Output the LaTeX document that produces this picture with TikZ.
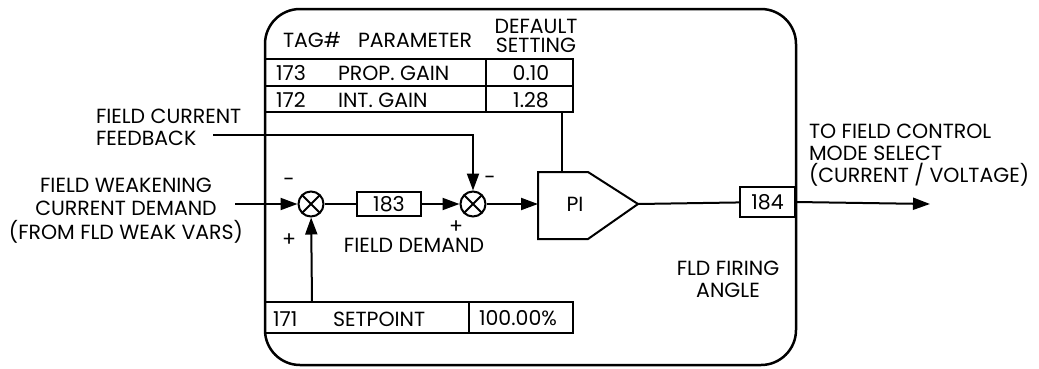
\documentclass[tikz,border=0pt]{standalone}
\usepackage{fontspec}
\setmainfont{Poppins}
\usetikzlibrary{arrows.meta, positioning}

\tikzset{
  lbl/.style={font=\fontsize{20.5}{22}\selectfont, inner sep=0pt},
  lbll/.style={lbl, align=left},
  lblc/.style={lbl, align=center},
  lblr/.style={lbl, align=right},
  tagbox/.style={draw, line width=2pt, minimum height=24pt, inner sep=0pt, font=\fontsize{20.5}{22}\selectfont},
  sumnode/.style={draw, circle, line width=2pt, minimum size=25pt, inner sep=0pt,
    path picture={\draw[line width=2pt] (path picture bounding box.north west) -- (path picture bounding box.south east)
      (path picture bounding box.south west) -- (path picture bounding box.north east);}},
}

\begin{document}
\begin{tikzpicture}[x=1pt, y=-1pt, line width=2pt, >={Triangle[length=17pt, width=12pt]}]
\useasboundingbox (0,0) rectangle (1039,368);

% outer block
\draw[line width=2.5pt, rounded corners=35pt] (265,9) rectangle (796,365);

% parameter table
\node[lbl, anchor=west] (taghead) at (282,40) {TAG\#};
\node[lbl, anchor=west] (parhead) at (357,40) {PARAMETER};
\node[lblc, anchor=north, font=\fontsize{20.5}{19.5}\selectfont] (defhead) at (536,18) {DEFAULT\\SETTING};
\draw (265,59) rectangle (573,112);
\draw (265,86) -- (573,86);
\draw (486,59) -- (486,112);
\node[lbl, anchor=west] (t173) at (275,73) {173};
\node[lbl, anchor=west] (p173) at (337,73) {PROP. GAIN};
\node[lbl] (v173) at (531,73) {0.10};
\node[lbl, anchor=west] (t172) at (275,100) {172};
\node[lbl, anchor=west] (p172) at (337,100) {INT. GAIN};
\node[lbl] (v172) at (531,100) {1.28};
\coordinate (gains) at (562,112);

% setpoint table
\draw (265,302) rectangle (573,333);
\draw (469,302) -- (469,333);
\node[lbl, anchor=west] (t171) at (272,319) {171};
\node[lbl, anchor=west] (p171) at (332,319) {SETPOINT};
\node[lbl] (v171) at (518,318) {100.00\%};
\coordinate (setp) at (312,302);

% summing junctions and tags
\node[sumnode] (sum1) at (311,204) {};
\node[tagbox, minimum width=64pt] (d183) at (389,204) {183};
\node[sumnode] (sum2) at (473,204) {};

% PI block
\draw (538,172) -- (588,172) -- (638,204) -- (588,239) -- (538,239) -- cycle;
\node[lbl] (pi) at (575,204) {PI};
\coordinate (piin) at (538,204);
\coordinate (piout) at (638,204);
\coordinate (pitop) at (562,172);

\node[tagbox, minimum width=55pt, minimum height=30pt] (d184) at (767.5,202) {184};

% inputs and output
\coordinate (fwin) at (235,204);
\coordinate (fbin) at (213,135);
\coordinate (out) at (930,204);

\draw[->] (fwin) -- (sum1);
\draw (sum1) -- (d183);
\draw[->] (d183) -- (sum2);
\draw[->] (sum2) -- (piin);
\draw (piout) -- (d184);
\draw[->] (d184.east) -- (out);
\draw[->] (fbin) -| (sum2);
\draw[->] (setp) -- (sum1);
\draw (gains) -- (pitop);

% signs
\node[lbl] (m1) at (289,182) {-};
\node[lbl] (p1) at (289,240) {+};
\node[lbl] (m2) at (490,180) {-};
\node[lbl] (p2) at (456,227) {+};

% labels
\node[lbl] (fdem) at (414,245) {FIELD DEMAND};
\node[lbll, anchor=north west] (fbtxt) at (95,108) {FIELD CURRENT\\FEEDBACK};
\node[lblc, anchor=north, font=\fontsize{20.5}{23.5}\selectfont] (fwtxt) at (126,177) {FIELD WEAKENING\\CURRENT DEMAND\\(FROM FLD WEAK VARS)};
\node[lbll, anchor=north west] (outtxt) at (808,123) {TO FIELD CONTROL\\MODE SELECT\\(CURRENT / VOLTAGE)};
\node[lblc, anchor=north] (firing) at (728,260) {FLD FIRING\\ANGLE};
\end{tikzpicture}
\end{document}
